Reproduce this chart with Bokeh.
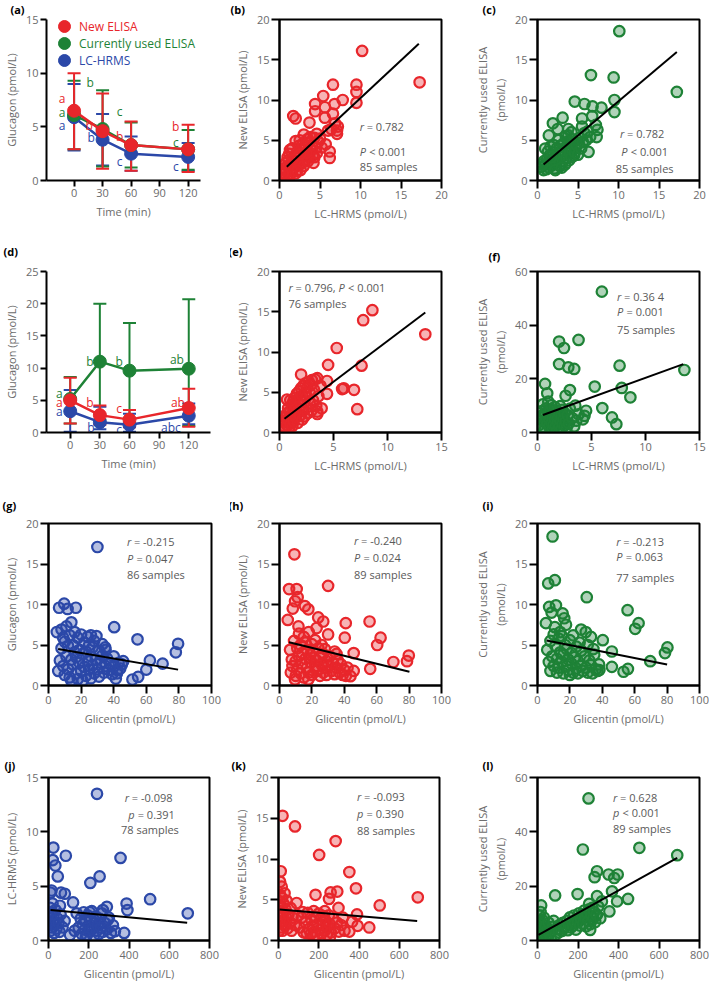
from bokeh.plotting import figure
from bokeh.models import Range1d, FixedTicker, Label, Legend, LegendItem, Whisker, TeeHead, ColumnDataSource
from bokeh.layouts import row, column
from bokeh.embed import file_html
from bokeh.resources import INLINE
from bokeh.core.properties import value

FONT = "Open Sans"
TXT = "#6b6b6b"
STAT = "#5a5a5a"
RED = "#e8262b"
GREEN = "#1e8236"
BLUE = "#2b48a8"

# ---------------- data: (a) time course ----------------
time_min = [0, 30, 60, 120]
a_new_mean = [6.5, 4.6, 3.3, 2.9]
a_new_hi = [10.0, 8.1, 5.5, 5.2]
a_new_lo = [2.9, 1.1, 0.9, 0.8]
a_cur_mean = [6.1, 4.8, 3.3, 2.9]
a_cur_hi = [9.3, 8.4, 5.4, 4.7]
a_cur_lo = [2.9, 1.3, 1.2, 1.0]
a_lc_mean = [5.9, 3.8, 2.5, 2.2]
a_lc_hi = [9.0, 6.2, 4.1, 3.5]
a_lc_lo = [2.8, 1.4, 0.9, 0.9]
a_new_let = ["a", "b", "b", "b"]
a_new_let_x = [-12.6, 16, 48, 107]
a_new_let_y = [7.6, 5.1, 4.1, 5.0]
a_cur_let = ["a", "b", "c", "c"]
a_cur_let_x = [-12.6, 17, 48, 107]
a_cur_let_y = [6.3, 9.1, 6.4, 3.5]
a_lc_let = ["a", "b", "c", "c"]
a_lc_let_x = [-12.6, 18, 48, 107]
a_lc_let_y = [5.1, 4.0, 1.8, 1.3]

# ---------------- data: (d) ----------------
d_new_mean = [5.0, 2.7, 2.0, 3.8]
d_new_hi = [8.5, 4.2, 3.5, 6.8]
d_new_lo = [1.4, 1.2, 0.8, 0.9]
d_cur_mean = [5.2, 11.0, 9.6, 9.9]
d_cur_hi = [8.6, 20.0, 17.0, 20.7]
d_cur_lo = [1.4, 2.0, 2.2, 1.0]
d_lc_mean = [3.3, 1.6, 1.2, 2.6]
d_lc_hi = [6.6, 4.0, 2.9, 4.5]
d_lc_lo = [0.1, 0.5, 0.1, 1.3]
d_new_let = ["a", "b", "c", "ab"]
d_new_let_x = [-11, 20, 49.6, 109]
d_new_let_y = [4.7, 4.7, 3.8, 4.6]
d_cur_let = ["a", "b", "b", "ab"]
d_cur_let_x = [-11, 20, 49.6, 108]
d_cur_let_y = [6.0, 11.1, 11.1, 11.3]
d_lc_let = ["a", "b", "c", "abc"]
d_lc_let_x = [-11, 21, 49.6, 102]
d_lc_let_y = [3.2, 0.8, 0.5, 0.7]

# ---------------- data: scatter panels ----------------
b_pts = [(10.2,16.1),(17.3,12.2),(6.6,11.9),(9.5,11.9),(9.5,11.0),(9.5,9.65),(7.8,10.0),(5.4,10.5),(4.4,9.5),(6.8,9.5),
         (5.6,9.1),(4.4,8.6),(6.6,8.3),(5.6,7.8),(1.7,8.0),(2.0,7.7),(3.7,7.2),(6.85,7.1),(7.2,6.7),(7.1,6.2),
         (7.1,5.8),(6.4,6.4),(6.0,6.2),(5.7,4.5),(6.2,3.6),(6.2,2.8),(4.3,2.9),
         (0.5,0.3),(0.6,0.8),(0.8,1.2),(0.9,0.5),(1.0,1.8),(1.1,2.5),(1.2,3.3),(1.3,1.2),(1.4,0.9),(1.5,2.0),
         (1.6,4.0),(1.7,1.5),(1.8,3.0),(1.9,2.4),(2.0,4.9),(2.1,1.8),(2.2,3.6),(2.3,2.8),(2.4,4.3),(2.5,5.0),
         (2.6,1.3),(2.7,3.9),(2.8,2.2),(2.9,4.6),(3.0,5.7),(3.1,3.2),(3.2,2.5),(3.3,4.1),(3.4,5.1),(3.5,3.6),
         (3.6,4.7),(3.7,2.9),(3.8,5.4),(3.9,3.8),(4.0,4.4),(4.1,3.1),(4.3,5.3),(4.5,4.0),(4.6,3.4),(4.8,4.8),
         (5.0,5.2),(1.2,0.4),(0.7,1.5),(2.0,0.9),(2.5,2.0),(0.4,0.9),(1.0,2.9),(3.0,1.8),(3.5,2.4),(2.2,1.2),
         (1.6,2.6),(4.2,2.2),(3.3,3.4),(0.8,2.2),(1.3,3.8),(2.6,3.3),(5.2,4.1),(4.6,5.8)]
b_x = [p[0] for p in b_pts]
b_y = [p[1] for p in b_pts]
b_fit_x = [0.9, 17.2]
b_fit_y = [1.7, 17.0]

c_pts = [(10.1,18.55),(6.6,13.1),(9.4,12.8),(17.2,11.0),(9.5,10.0),(9.5,8.5),(4.6,9.8),(5.8,9.5),(6.8,9.2),(7.9,9.05),
         (3.1,7.8),(1.9,7.1),(2.5,6.4),(1.4,5.6),(3.8,6.4),(3.8,5.6),(5.5,7.7),(5.5,6.7),(6.75,8.0),(7.2,6.9),
         (7.4,6.3),(7.3,5.4),(6.5,5.4),(6.3,3.55),(0.95,3.97),(2.0,4.4),(4.06,4.8),(4.7,4.0),(5.1,4.6),(4.5,3.1),
         (2.8,1.8),(0.5,1.7),(0.75,1.3),
         (1.0,2.0),(1.2,2.6),(1.4,1.6),(1.5,3.1),(1.6,2.2),(1.8,1.9),(1.9,3.5),(2.0,2.7),(2.1,1.5),(2.2,3.0),
         (2.3,2.2),(2.4,4.0),(2.5,2.6),(2.6,3.4),(2.7,1.9),(2.8,4.3),(2.9,2.9),(3.0,3.7),(3.1,2.4),(3.2,4.6),
         (3.3,3.2),(3.4,2.0),(3.5,4.1),(3.6,2.8),(3.7,3.6),(3.8,4.9),(3.9,2.5),(4.0,3.4),(4.1,4.2),(4.2,2.9),
         (4.3,3.8),(4.4,5.1),(4.6,3.5),(4.8,4.4),(5.0,3.2),(5.2,5.3),(5.4,4.0),(5.6,4.8),(5.8,5.9),(6.0,5.0),
         (6.2,6.1),(0.8,2.4),(1.1,1.4),(1.3,3.6),(0.6,2.0),(1.7,2.9),(2.2,1.3),(3.0,1.6),(2.6,5.0),(3.5,5.5),
         (4.2,6.0),(1.6,4.2)]
c_x = [p[0] for p in c_pts]
c_y = [p[1] for p in c_pts]
c_fit_x = [0.75, 17.2]
c_fit_y = [2.0, 15.95]

e_pts = [(8.6,15.2),(7.75,13.95),(13.5,12.2),(5.3,10.5),(4.5,8.4),(7.6,8.3),(2.0,7.2),(5.95,5.5),(5.8,5.4),(6.9,5.3),
         (7.2,2.9),(4.4,4.8),(4.4,6.4),(3.5,6.75),(3.5,2.6),(3.5,2.3),(0.7,4.1),
         (0.3,0.3),(0.4,0.8),(0.5,1.3),(0.5,0.5),(0.6,1.9),(0.7,2.4),(0.7,0.9),(0.8,1.5),(0.8,3.0),(0.9,2.0),
         (0.9,0.6),(1.0,2.6),(1.0,1.1),(1.1,3.4),(1.1,1.7),(1.2,2.3),(1.2,0.8),(1.3,3.9),(1.3,1.4),(1.4,2.8),
         (1.4,4.3),(1.5,1.9),(1.5,3.3),(1.6,2.5),(1.6,4.8),(1.7,1.2),(1.7,3.7),(1.8,2.9),(1.8,5.1),(1.9,2.1),
         (1.9,4.2),(2.0,3.4),(2.0,5.5),(2.1,1.6),(2.1,4.6),(2.2,2.7),(2.2,5.8),(2.3,3.8),(2.3,2.0),(2.4,5.0),
         (2.4,6.1),(2.5,3.1),(2.5,4.4),(2.6,5.6),(2.6,2.4),(2.7,6.3),(2.8,3.6),(2.8,4.9),(2.9,5.9),(3.0,2.8),
         (3.0,6.5),(3.1,4.0),(3.2,5.3),(3.3,6.6),(3.4,3.3),(3.6,4.5),(3.8,5.8),(1.0,4.0),(3.9,3.0)]
e_x = [p[0] for p in e_pts]
e_y = [p[1] for p in e_pts]
e_fit_x = [0.46, 13.5]
e_fit_y = [1.7, 14.9]

f_pts = [(5.96,52.5),(2.0,33.9),(2.45,31.5),(3.8,34.5),(2.0,25.5),(2.85,24.3),(3.4,23.7),(7.6,24.9),(13.6,23.3),
         (5.3,17.1),(7.8,16.6),(8.6,13.1),(0.7,18.1),(0.9,14.6),(3.0,15.8),(2.6,13.7),(3.5,10.0),(6.0,9.1),
         (6.9,5.6),(7.3,3.1),(4.5,8.1),(4.35,6.2),(3.6,4.4),
         (0.2,3.0),(0.3,5.5),(0.4,8.0),(0.4,2.0),(0.5,6.5),(0.5,10.5),(0.6,4.0),(0.7,7.2),(0.7,1.5),(0.8,9.0),
         (0.8,5.0),(0.9,3.2),(1.0,6.8),(1.0,11.5),(1.1,4.5),(1.1,2.2),(1.2,8.5),(1.2,6.0),(1.3,3.6),(1.3,10.2),
         (1.4,5.2),(1.4,1.0),(1.5,7.5),(1.5,3.0),(1.6,9.5),(1.6,4.8),(1.7,2.5),(1.7,6.3),(1.8,8.0),(1.8,0.8),
         (1.9,5.5),(1.9,3.8),(2.0,7.0),(2.0,2.0),(2.1,9.8),(2.1,4.4),(2.2,6.0),(2.2,1.4),(2.3,3.2),(2.3,8.4),
         (2.4,5.0),(2.5,2.6),(2.5,7.2),(2.6,4.0),(2.7,1.8),(2.8,6.4),(2.9,3.4),(3.0,8.9),(3.2,5.4),(3.4,2.3),
         (3.8,6.8),(4.2,4.9)]
f_x = [p[0] for p in f_pts]
f_y = [p[1] for p in f_pts]
f_fit_x = [0.5, 13.5]
f_fit_y = [6.5, 25.5]

g_pts = [(30,17.1),(9.6,10.1),(6.5,9.6),(11.7,9.45),(16.8,9.6),(40.3,7.2),(54.6,5.7),(79.5,5.15),(78.1,4.1),(5.1,6.6),
         (62.2,3.1),(70,2.7),(60,1.96),(51.5,0.74),(55,1.06),(29.4,6.1),(34.8,4.7),(45.8,3.0),(42.3,1.9),(41.3,0.86),
         (6,1.8),(7,3.1),(8,4.6),(8,6.9),(9,2.4),(10,1.3),(10,5.4),(11,3.6),(11,7.3),(12,2.0),
         (12,4.9),(13,6.2),(13,1.0),(14,3.2),(14,7.8),(15,2.6),(15,5.0),(16,4.1),(16,6.6),(17,1.5),
         (17,3.5),(18,5.9),(18,0.8),(19,2.8),(19,4.4),(20,6.3),(20,1.8),(21,3.9),(22,5.3),(22,2.3),
         (23,1.2),(23,4.2),(24,6.0),(24,3.0),(25,2.0),(25,5.0),(26,0.9),(26,3.6),(27,4.7),(27,2.5),
         (28,1.5),(28,5.5),(29,3.2),(30,2.0),(31,4.3),(31,1.1),(32,2.8),(33,5.1),(33,3.7),(34,1.6),
         (35,2.4),(35,4.4),(36,3.3),(37,1.9),(38,2.7),(39,1.4),(40,3.6),(40,2.3),(42,1.5),(43,2.8),
         (44,2.1),(45,2.6),(14,0.6),(21,0.6),(9,5.9),(26,6.2)]
g_x = [p[0] for p in g_pts]
g_y = [p[1] for p in g_pts]
g_fit_x = [5.9, 79.5]
g_fit_y = [4.5, 1.96]

h_pts = [(9.2,16.2),(30,12.3),(5.9,11.9),(10.6,11.9),(11.2,10.9),(9.6,10.4),(8.2,9.5),(15.7,9.8),(17.8,9.4),(5.1,8.1),
         (23.9,8.4),(27,7.9),(22.9,7.1),(11.7,7.3),(40.9,7.7),(55.6,7.9),(40.3,5.9),(62.4,5.9),(60.3,5.0),(30,6.3),
         (45.8,4.0),(35.2,3.9),(79.8,3.7),(78.7,3.0),(70.3,2.9),(56,2.06),(45.8,1.8),(43.8,1.15),(6.5,4.4),(7.6,3.2),
         (7,1.6),(9.6,0.75),(17.8,0.75),
         (8,2.4),(9,5.5),(10,3.0),(10,1.2),(11,4.6),(11,2.0),(12,6.4),(12,3.6),(13,1.5),(13,5.0),
         (14,2.7),(14,4.0),(15,6.0),(15,1.0),(16,3.3),(16,5.3),(17,2.2),(17,4.4),(18,6.6),(18,1.6),
         (19,3.8),(19,2.9),(20,5.1),(20,1.3),(21,3.4),(21,4.3),(22,2.4),(22,5.6),(23,1.8),(23,3.1),
         (24,4.6),(24,2.0),(25,3.6),(25,1.2),(26,5.0),(26,2.6),(27,1.6),(27,3.9),(28,2.2),(28,4.5),
         (29,3.0),(29,1.3),(30,2.5),(31,3.6),(32,1.8),(33,2.8),(34,4.2),(34,1.4),(35,2.2),(36,3.1),
         (37,1.6),(38,2.6),(39,1.3),(40,1.9),(41,1.2),(42,2.2)]
h_x = [p[0] for p in h_pts]
h_y = [p[1] for p in h_pts]
h_fit_x = [5.9, 80.2]
h_fit_y = [5.35, 1.7]

i_pts = [(9.3,18.4),(6.6,12.6),(10.7,13.0),(30.4,10.9),(7.2,9.7),(11.4,9.9),(8.7,9.0),(15.5,8.9),(16.5,8.3),(17.6,7.5),
         (5.2,7.7),(55.6,9.3),(62.4,7.7),(60.3,7.0),(26.9,6.9),(29.8,6.6),(10.7,7.2),(40.3,5.6),(45.9,4.2),(34.5,4.5),
         (80.2,4.7),(78.7,4.0),(69.6,3.0),(45.9,2.3),(55.8,2.05),(53.1,1.7),(38.2,1.9),
         (6,4.4),(7,2.9),(8,5.5),(8,1.8),(9,3.6),(10,6.3),(10,2.4),(11,4.9),(12,1.6),(12,3.3),
         (13,5.8),(13,2.2),(14,4.1),(15,2.9),(15,6.1),(16,1.5),(16,3.8),(17,5.0),(18,2.4),(18,4.5),
         (19,1.9),(19,3.2),(20,5.6),(21,2.7),(21,4.0),(22,1.6),(22,6.2),(23,3.5),(24,2.1),(24,4.8),
         (25,1.5),(25,3.0),(26,5.3),(27,2.4),(27,4.3),(28,1.8),(29,3.6),(30,2.2),(31,5.0),(31,1.6),
         (32,3.1),(33,2.5),(34,1.5),(35,3.8),(36,2.0),(37,1.8),(38,2.6),(33,6.0),(14,6.6),(20,1.3)]
i_x = [p[0] for p in i_pts]
i_y = [p[1] for p in i_pts]
i_fit_x = [5.6, 80]
i_fit_y = [5.55, 2.6]

j_pts = [(241,13.5),(24,8.55),(21,7.4),(34,6.9),(46,5.9),(86,7.8),(358,7.6),(208,5.3),(254,5.9),(505,3.8),
         (388,3.4),(392,2.8),(290,3.1),(692,2.5),(10,4.4),(15,4.6),(81,4.3),(62,4.4),(57,3.2),(122,3.5),
         (107,0.5),(376,0.7),(330,0.86),(295,1.9),
         (3,2.3),(5,1.5),(8,3.0),(10,0.9),(12,2.0),(15,2.6),(18,1.2),(20,3.4),(22,1.8),(25,2.3),
         (28,0.7),(30,1.5),(35,2.8),(40,1.1),(45,2.0),(50,1.6),(55,0.8),(60,2.4),(70,1.2),(80,1.8),
         (150,1.2),(160,2.0),(165,0.6),(170,1.5),(175,2.6),(180,1.0),(185,1.8),(190,0.5),(195,2.3),(200,1.3),
         (205,0.8),(210,1.9),(215,2.7),(220,1.1),(225,0.4),(230,1.6),(235,2.2),(240,0.9),(245,1.4),(250,0.6),
         (255,2.0),(260,1.2),(265,2.5),(270,0.8),(280,1.6),(290,1.0),(300,2.1),(310,0.7),(320,1.4),(140,2.5),
         (130,0.9),(270,2.8),(205,2.6),(185,0.3)]
j_x = [p[0] for p in j_pts]
j_y = [p[1] for p in j_pts]
j_fit_x = [10, 689]
j_fit_y = [2.8, 1.63]

k_pts = [(20,15.3),(82,14.0),(284,12.2),(202,10.5),(11,8.5),(352,8.4),(385,6.4),(292,6.0),(259,5.9),(251,5.1),
         (298,4.0),(692,5.3),(503,4.3),(184,5.6),(390,3.2),(451,1.6),(393,1.8),(366,2.3),(352,1.1),(328,1.2),
         (8,7.2),(16,6.6),(90,4.6),(3,1.2),
         (3,3.0),(5,4.8),(6,2.2),(8,5.6),(10,3.6),(12,1.6),(14,4.2),(16,2.8),(18,5.2),(20,1.2),
         (22,3.4),(25,4.5),(28,2.4),(30,5.8),(32,1.8),(35,3.8),(38,2.8),(40,4.9),(45,1.5),(50,3.2),
         (55,2.2),(60,4.0),(65,1.2),(70,2.8),(80,1.9),(95,3.1),
         (105,1.6),(115,2.8),(125,1.0),(135,2.2),(145,3.4),(150,1.4),(160,0.8),(165,2.5),(170,1.8),(175,3.6),
         (180,1.1),(185,2.9),(190,0.6),(195,2.0),(200,3.3),(205,1.3),(210,2.6),(215,0.9),(220,1.9),(225,3.0),
         (230,1.2),(235,2.4),(240,0.7),(245,1.7),(250,3.1),(255,2.0),(260,1.0),(270,2.7),(280,1.5),(290,2.2),
         (300,1.1),(310,1.9),(255,0.4),(175,0.5),(120,3.5),(320,2.8),(140,0.9),(230,3.6)]
k_x = [p[0] for p in k_pts]
k_y = [p[1] for p in k_pts]
k_fit_x = [5, 689]
k_fit_y = [3.8, 2.4]

l_pts = [(252,52.3),(224,33.5),(503,34.1),(690,31.4),(294,25.5),(282,23.3),(351,24.3),(396,24.3),(379,23.0),(368,18.1),
         (294,16.3),(87,16.6),(198,17.1),(447,15.3),(393,14.4),(318,14.4),(355,10.7),(294,9.5),(18,12.9),(260,3.9),
         (255,13.5),
         (2,1.0),(3,3.0),(4,5.2),(5,7.0),(6,2.0),(8,4.0),(9,9.2),(10,1.5),(12,6.0),(14,3.2),
         (15,10.5),(18,0.8),(20,5.0),(22,2.5),(25,7.5),(28,4.2),(30,1.2),(32,8.4),(35,3.0),(40,5.5),
         (45,1.8),(50,4.0),(55,6.5),(60,2.5),(65,0.9),(70,3.5),(75,5.0),(80,7.2),(90,2.2),(100,4.2),
         (105,3.0),(110,5.8),(120,3.5),(125,6.5),(130,4.5),(140,5.2),(145,7.2),(150,3.8),(155,6.0),(160,8.5),
         (165,4.8),(170,7.0),(175,5.5),(180,9.2),(185,6.5),(190,4.0),(195,8.0),(200,6.8),(205,10.0),(210,5.5),
         (215,7.8),(220,9.5),(225,6.2),(230,11.0),(235,8.5),(240,5.2),(245,9.8),(250,7.2),(255,11.5),(260,6.0),
         (265,9.0),(270,12.0),(275,8.0),(280,10.5),(285,6.8),(290,9.5),(300,12.5),(310,8.2)]
l_x = [p[0] for p in l_pts]
l_y = [p[1] for p in l_pts]
l_fit_x = [5, 690]
l_fit_y = [2.1, 30.4]


# ---------------- helpers ----------------
def style_axis(ax, ticks, label, tick_out):
    ax.ticker = FixedTicker(ticks=ticks)
    ax.axis_label = label
    ax.axis_line_width = 2
    ax.axis_line_color = "black"
    ax.major_tick_line_width = 2
    ax.major_tick_line_color = "black"
    ax.major_tick_out = tick_out
    ax.major_tick_in = 0
    ax.minor_tick_line_color = None
    ax.major_label_text_font = FONT
    ax.major_label_text_font_size = "11px"
    ax.major_label_text_color = TXT
    ax.major_label_standoff = 2
    ax.axis_label_text_font = FONT
    ax.axis_label_text_font_size = "11px"
    ax.axis_label_text_color = TXT
    ax.axis_label_text_font_style = "normal"
    ax.axis_label_standoff = 4


def make_fig(w, h, bl, br, bt, bb, xr, yr, xticks, yticks, xlabel, ylabel, letter, toff, tstand, valign, box=True):
    p = figure(width=w, height=h, x_range=Range1d(*xr), y_range=Range1d(*yr),
               output_backend="svg", toolbar_location=None,
               min_border_left=bl, min_border_right=br, min_border_top=bt, min_border_bottom=bb)
    p.xgrid.visible = False
    p.ygrid.visible = False
    p.background_fill_color = "white"
    p.border_fill_color = "white"
    p.outline_line_color = "black" if box else None
    p.outline_line_width = 2
    tick_out = 8 if box else 6
    style_axis(p.xaxis[0], xticks, xlabel, tick_out)
    style_axis(p.yaxis[0], yticks, ylabel, tick_out)
    p.title.text = letter
    p.title.align = "left"
    p.title.vertical_align = valign
    p.title.offset = toff
    p.title.standoff = tstand
    p.title.text_font = FONT
    p.title.text_font_size = "11px"
    p.title.text_font_style = "bold"
    p.title.text_color = "black"
    return p


def scatter_panel(p, xs, ys, color, fx, fy):
    p.scatter(xs, ys, size=10.5, fill_color=color, fill_alpha=0.35, line_color=color, line_width=2.2)
    p.line(fx, fy, line_color="black", line_width=2)


def stat_lines(p, x, lines):
    # lines: list of (y, [(text, italic, x_offset), ...])
    for y, segs in lines:
        for text, it, off in segs:
            p.add_layout(Label(x=x, y=y, x_offset=off, text=text, text_font=FONT, text_font_size="11px",
                               text_font_style="italic" if it else "normal", text_color=STAT,
                               text_baseline="middle"))


def course_panel(p, series, legend=False):
    for mean, hi, lo, color, lets, lx, ly, name, lv in series:
        src = ColumnDataSource(dict(t=time_min, m=mean, hi=hi, lo=lo))
        p.add_layout(Whisker(source=src, base="t", upper="hi", lower="lo", line_color=color, line_width=2,
                             upper_head=TeeHead(size=13, line_color=color, line_width=2),
                             lower_head=TeeHead(size=13, line_color=color, line_width=2)))
        p.line("t", "m", source=src, line_color=color, line_width=2.5)
        r = p.scatter("t", "m", source=src, size=13, fill_color=color, line_color=color)
        p.text(x=lx, y=ly, text=lets, text_color=color, text_font=value(FONT), text_font_size="12px",
               text_align="center", text_baseline="middle")
        if legend:
            p.add_layout(Legend(items=[LegendItem(label=name, renderers=[r])], location=(3, lv),
                                glyph_width=30, glyph_height=30, label_standoff=0, padding=0, margin=0,
                                spacing=0, border_line_color=None, background_fill_alpha=0,
                                label_text_font=FONT, label_text_font_size="12px",
                                label_text_color=color, label_height=30))


W1, W2, W3 = 230, 230, 249
H = [232, 256, 252, 246]
TB = [(17, 52), (38, 56), (34, 55), (37, 46)]
LAB_LC = "LC-HRMS (pmol/L)"
LAB_GLI = "Glicentin (pmol/L)"
LAB_NEW = "New ELISA (pmol/L)"
LAB_CUR = "Currently used ELISA\n(pmol/L)"
LAB_GLU = "Glucagon (pmol/L)"
T0_20 = [0, 5, 10, 15, 20]
T0_15 = [0, 5, 10, 15]
T0_60 = [0, 20, 40, 60]
T0_100 = [0, 20, 40, 60, 80, 100]
T0_800 = [0, 200, 400, 600, 800]
TIME_T = [0, 30, 60, 90, 120]

# ---- row 1 ----
fa = make_fig(W1, H[0], 37, 30, TB[0][0], TB[0][1], (-29, 133), (0, 15), TIME_T, [0, 5, 10, 15],
              "Time (min)", LAB_GLU, "(a)", -36, 2, "top", box=False)
course_panel(fa, [
    (a_lc_mean, a_lc_hi, a_lc_lo, BLUE, a_lc_let, a_lc_let_x, a_lc_let_y, "LC-HRMS", 105),
    (a_cur_mean, a_cur_hi, a_cur_lo, GREEN, a_cur_let, a_cur_let_x, a_cur_let_y, "Currently used ELISA", 122),
    (a_new_mean, a_new_hi, a_new_lo, RED, a_new_let, a_new_let_x, a_new_let_y, "New ELISA", 139),
], legend=True)

fb = make_fig(W2, H[0], 49, 19, TB[0][0], TB[0][1], (0, 20), (0, 20), T0_20, T0_20, LAB_LC, LAB_NEW, "(b)", -49, 2, "top")
scatter_panel(fb, b_x, b_y, RED, b_fit_x, b_fit_y)
stat_lines(fb, 9.9, [(6.7, [("r", True, 0), ("= 0.782", False, 7)]),
                     (3.6, [("P", True, 0), ("< 0.001", False, 9.5)]),
                     (1.8, [("85 samples", False, 0)])])

fc = make_fig(W3, H[0], 77, 10, TB[0][0], TB[0][1], (0, 20), (0, 20), T0_20, T0_20, LAB_LC, LAB_CUR, "(c)", -55, 2, "top")
scatter_panel(fc, c_x, c_y, GREEN, c_fit_x, c_fit_y)
stat_lines(fc, 10.2, [(5.8, [("r", True, 0), ("= 0.782", False, 7)])])
stat_lines(fc, 10.35, [(3.6, [("P", True, 0), ("< 0.001", False, 9.5)])])
stat_lines(fc, 9.65, [(1.5, [("85 samples", False, 0)])])

# ---- row 2 ----
fd = make_fig(W1, H[1], 43, 20, TB[1][0], TB[1][1], (-24, 142), (0, 25), TIME_T, [0, 5, 10, 15, 20, 25],
              "Time (min)", LAB_GLU, "(d)", -43, 22, "top", box=False)
course_panel(fd, [
    (d_lc_mean, d_lc_hi, d_lc_lo, BLUE, d_lc_let, d_lc_let_x, d_lc_let_y, "LC-HRMS", 0),
    (d_cur_mean, d_cur_hi, d_cur_lo, GREEN, d_cur_let, d_cur_let_x, d_cur_let_y, "Currently used ELISA", 0),
    (d_new_mean, d_new_hi, d_new_lo, RED, d_new_let, d_new_let_x, d_new_let_y, "New ELISA", 0),
])

fe = make_fig(W2, H[1], 49, 19, TB[1][0], TB[1][1], (0, 15), (0, 20), T0_15, T0_20, LAB_LC, LAB_NEW, "(e)", -51, 22, "top")
scatter_panel(fe, e_x, e_y, RED, e_fit_x, e_fit_y)
stat_lines(fe, 0.84, [(18.07, [("r", True, 0), ("= 0.796,", False, 7), ("P", True, 50), ("< 0.001", False, 59.5)]),
                      (16.0, [("76 samples", False, 0)])])

ff = make_fig(W3, H[1], 77, 10, TB[1][0], TB[1][1], (0, 15), (0, 60), T0_15, T0_60, LAB_LC, LAB_CUR, "(f)", -49, 12, "top")
scatter_panel(ff, f_x, f_y, GREEN, f_fit_x, f_fit_y)
stat_lines(ff, 7.36, [(50.7, [("r", True, 0), ("= 0.36 4", False, 7)]),
                      (45.2, [("P", True, 0), ("= 0.001", False, 9.5)]),
                      (38.2, [("75 samples", False, 0)])])

# ---- row 3 ----
fg = make_fig(W1, H[2], 48, 19, TB[2][0], TB[2][1], (0, 100), (0, 20), T0_100, T0_20, LAB_GLI, LAB_GLU, "(g)", -46, 18, "top")
scatter_panel(fg, g_x, g_y, BLUE, g_fit_x, g_fit_y)
stat_lines(fg, 48.1, [(17.75, [("r", True, 0), ("= -0.215", False, 7)]),
                      (15.7, [("P", True, 0), ("= 0.047", False, 9.5)]),
                      (13.7, [("86 samples", False, 0)])])

fh = make_fig(W2, H[2], 49, 19, TB[2][0], TB[2][1], (0, 100), (0, 20), T0_100, T0_20, LAB_GLI, LAB_NEW, "(h)", -51, 18, "top")
scatter_panel(fh, h_x, h_y, RED, h_fit_x, h_fit_y)
stat_lines(fh, 46, [(17.9, [("r", True, 0), ("= -0.240", False, 7)]),
                    (15.8, [("P", True, 0), ("= 0.024", False, 9.5)]),
                    (13.7, [("89 samples", False, 0)])])

fi = make_fig(W3, H[2], 77, 10, TB[2][0], TB[2][1], (0, 100), (0, 20), T0_100, T0_20, LAB_GLI, LAB_CUR, "(i)", -55, 18, "top")
scatter_panel(fi, i_x, i_y, GREEN, i_fit_x, i_fit_y)
stat_lines(fi, 48.6, [(17.8, [("r", True, 0), ("= -0.213", False, 7)]),
                      (15.9, [("P", True, 0), ("= 0.063", False, 9.5)]),
                      (13.3, [("77 samples", False, 0)])])

# ---- row 4 ----
fj = make_fig(W1, H[3], 46, 21, TB[3][0], TB[3][1], (0, 800), (0, 15), T0_800, T0_15, LAB_GLI, "LC-HRMS (pmol/L)", "(j)", -44, 6, "top")
scatter_panel(fj, j_x, j_y, BLUE, j_fit_x, j_fit_y)
stat_lines(fj, 379, [(13.2, [("r", True, 0), ("= -0.098", False, 7)])])
stat_lines(fj, 396, [(11.6, [("p", True, 0), ("= 0.391", False, 9.5)])])
stat_lines(fj, 360, [(10.2, [("78 samples", False, 0)])])

fk = make_fig(W2, H[3], 47, 21, TB[3][0], TB[3][1], (0, 800), (0, 20), T0_800, T0_20, LAB_GLI, LAB_NEW, "(k)", -47, 6, "top")
scatter_panel(fk, k_x, k_y, RED, k_fit_x, k_fit_y)
stat_lines(fk, 390, [(17.7, [("r", True, 0), ("= -0.093", False, 7)]),
                     (15.6, [("p", True, 0), ("= 0.390", False, 9.5)]),
                     (13.5, [("88 samples", False, 0)])])

fl = make_fig(W3, H[3], 77, 10, TB[3][0], TB[3][1], (0, 800), (0, 60), T0_800, T0_60, LAB_GLI, LAB_CUR, "(l)", -55, 6, "top")
scatter_panel(fl, l_x, l_y, GREEN, l_fit_x, l_fit_y)
stat_lines(fl, 373, [(52.6, [("r", True, 0), ("= 0.628", False, 7)]),
                     (47.3, [("p", True, 0), ("< 0.001", False, 9.5)]),
                     (41.3, [("89 samples", False, 0)])])

layout = column(row(fa, fb, fc), row(fd, fe, ff), row(fg, fh, fi), row(fj, fk, fl))
open("out.html", "w").write(file_html(layout, INLINE))
